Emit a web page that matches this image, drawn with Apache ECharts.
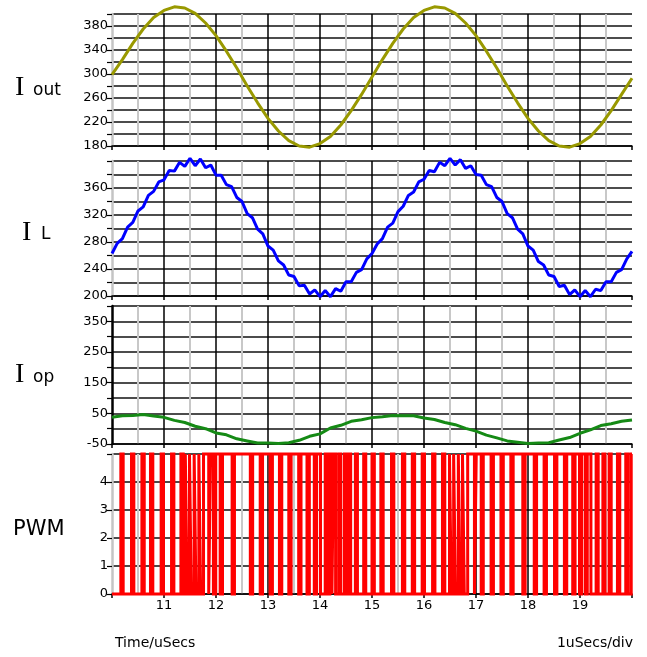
<!DOCTYPE html>
<html><head><meta charset="utf-8">
<script src="https://cdn.jsdelivr.net/npm/echarts@6/dist/echarts.min.js"></script>
<style>html,body{margin:0;padding:0;background:#fff}#c{width:647px;height:657px}</style>
</head><body><div id="c"></div>
<script>
// ---- tick labels ----
const timeTicks = [11, 12, 13, 14, 15, 16, 17, 18, 19];
const ioutTicks = [180, 220, 260, 300, 340, 380];
const ilTicks = [200, 240, 280, 320, 360];
const iopTicks = [-50, 50, 150, 250, 350];
const pwmTicks = [0, 1, 2, 3, 4];

// ---- sample times ----
const t02 = [10.0,10.2,10.4,10.6,10.8,11.0,11.2,11.4,11.6,11.8,12.0,12.2,12.4,12.6,12.8,13.0,13.2,13.4,13.6,13.8,14.0,14.2,14.4,14.6,14.8,
  15.0,15.2,15.4,15.6,15.8,16.0,16.2,16.4,16.6,16.8,17.0,17.2,17.4,17.6,17.8,18.0,18.2,18.4,18.6,18.8,19.0,19.2,19.4,19.6,19.8,20.0];
const t01 = [10.0,10.1,10.2,10.3,10.4,10.5,10.6,10.7,10.8,10.9,11.0,11.1,11.2,11.3,11.4,11.5,11.6,11.7,11.8,11.9,
  12.0,12.1,12.2,12.3,12.4,12.5,12.6,12.7,12.8,12.9,13.0,13.1,13.2,13.3,13.4,13.5,13.6,13.7,13.8,13.9,
  14.0,14.1,14.2,14.3,14.4,14.5,14.6,14.7,14.8,14.9,15.0,15.1,15.2,15.3,15.4,15.5,15.6,15.7,15.8,15.9,
  16.0,16.1,16.2,16.3,16.4,16.5,16.6,16.7,16.8,16.9,17.0,17.1,17.2,17.3,17.4,17.5,17.6,17.7,17.8,17.9,
  18.0,18.1,18.2,18.3,18.4,18.5,18.6,18.7,18.8,18.9,19.0,19.1,19.2,19.3,19.4,19.5,19.6,19.7,19.8,19.9,20.0];

// ---- series values ----
const ioutValues = [299,324,351,375,394,406,412,410,401,385,364,338,310,280,252,226,205,189,180,178,184,196,215,239,266,
  295,324,351,375,394,406,412,410,401,385,364,338,310,280,252,226,205,189,180,178,184,196,215,239,266,293];
const ilValues = [263,278,285,302,309,326,332,349,355,369,372,386,385,398,392,404,393,403,390,394,
  379,379,365,362,346,340,322,316,299,292,274,268,252,246,231,229,215,216,203,209,
  199,208,199,211,207,221,221,235,239,255,263,277,285,302,308,325,333,349,354,369,
  373,386,384,398,393,404,394,402,389,393,380,379,365,362,346,340,322,316,299,292,
  274,268,251,246,231,229,214,216,202,209,199,208,199,210,208,221,221,235,239,255,266];
const iopValues = [37,42,43,46,41,37,27,20,8,0,-14,-20,-33,-40,-47,-47,-48,-46,-38,-25,-17,2,11,24,29,
  36,39,43,42,42,35,30,20,13,1,-8,-21,-30,-40,-44,-48,-47,-46,-37,-29,-15,-4,10,16,24,28];
// PWM high intervals [rise, fall] in uSecs
const pwmHigh = [[10.17,10.215],[10.375,10.42],[10.575,10.62],[10.74,10.785],[10.945,10.99],[11.145,11.19],[11.325,11.37],
  [11.41,11.445],[11.49,11.525],[11.58,11.615],[11.67,11.705],
  [11.76,11.86],[11.895,11.95],[11.995,12.08],[12.125,12.31],[12.355,12.66],[12.705,12.85],[12.895,13.04],[13.085,13.22],
  [13.265,13.40],[13.445,13.59],[13.635,13.75],[13.795,13.89],[13.935,14.01],
  [14.10,14.14],[14.19,14.23],[14.26,14.30],[14.36,14.40],[14.47,14.51],[14.55,14.59],[14.68,14.72],[14.84,14.88],
  [15.00,15.045],[15.17,15.215],[15.375,15.42],[15.585,15.63],[15.775,15.82],[15.965,16.01],[16.165,16.21],[16.355,16.40],
  [16.49,16.525],[16.57,16.605],[16.66,16.695],[16.74,16.775],
  [16.84,16.97],[17.005,17.10],[17.14,17.29],[17.335,17.48],[17.525,17.67],[17.715,17.90],[17.945,18.12],[18.165,18.31],
  [18.355,18.51],[18.555,18.70],[18.745,18.86],[18.905,18.99],[19.03,19.10],[19.14,19.21],
  [19.31,19.35],[19.44,19.48],[19.56,19.60],[19.72,19.765],[19.88,19.925],[19.985,20.0]];
const pwmLow = 0, pwmHighLevel = 5;

// ---- build ----
const zip = (ts, vs) => ts.map((t, i) => [t, vs[i]]);
const pwmData = [[10, pwmLow]];
pwmHigh.forEach(([a, b]) => {
  pwmData.push([a, pwmLow], [a, pwmHighLevel], [b, pwmHighLevel]);
  if (b < 20) pwmData.push([b, pwmLow]);
});

const FONT = 'DejaVu Sans';
const panels = [
  {top: 14, height: 132, min: 180, max: 400, interval: 20, ticks: ioutTicks, axisColor: '#c4c4c4'},
  {top: 161, height: 135, min: 200, max: 400, interval: 20, ticks: ilTicks, axisColor: '#c4c4c4'},
  {top: 306, height: 138, min: -50, max: 400, interval: 50, ticks: iopTicks, axisColor: '#000'},
  {top: 454, height: 140, min: 0, max: 5, interval: 1, ticks: pwmTicks, axisColor: '#c4c4c4'}
];

const option = {
  animation: false,
  backgroundColor: '#fff',
  grid: panels.map(p => ({left: 112, right: 15, top: p.top, height: p.height})),
  xAxis: panels.map((p, i) => ({
    type: 'value', gridIndex: i, min: 10, max: 20, interval: 1,
    axisLine: {show: true, onZero: false, lineStyle: {color: '#000', width: 1.5}},
    axisTick: {show: true, length: 4, lineStyle: {color: '#000', width: 1.5}},
    axisLabel: {show: i === 3, margin: 5, fontFamily: FONT, fontSize: 13, color: '#000',
      formatter: v => timeTicks.includes(Math.round(v * 100) / 100) ? String(Math.round(v)) : ''},
    splitLine: {show: true, showMinLine: false, showMaxLine: false, lineStyle: {color: '#000', width: 1.5}},
    minorTick: {show: false, splitNumber: 2},
    minorSplitLine: {show: true, lineStyle: {color: '#c8c8c8', width: 2}}
  })),
  yAxis: panels.map((p, i) => ({
    type: 'value', gridIndex: i, min: p.min, max: p.max, interval: p.interval,
    axisLine: {show: true, onZero: false, lineStyle: {color: p.axisColor, width: 2.5}},
    axisTick: {show: true, length: 5, lineStyle: {color: '#000', width: 1.2}},
    axisLabel: {margin: 4, fontFamily: FONT, fontSize: 13, color: '#000',
      formatter: v => p.ticks.includes(v) ? String(v) : ''},
    splitLine: {show: true, lineStyle: {color: '#111', width: 1.5}}
  })),
  series: [
    {type: 'line', xAxisIndex: 0, yAxisIndex: 0, data: zip(t02, ioutValues), symbol: 'none', clip: false,
      lineStyle: {color: '#999900', width: 3}, z: 5},
    {type: 'line', xAxisIndex: 1, yAxisIndex: 1, data: zip(t01, ilValues), symbol: 'none', clip: false,
      lineStyle: {color: '#0000ff', width: 3}, z: 5},
    {type: 'line', xAxisIndex: 2, yAxisIndex: 2, data: zip(t02, iopValues), symbol: 'none', clip: false,
      lineStyle: {color: '#158a15', width: 3}, z: 5},
    {type: 'line', xAxisIndex: 3, yAxisIndex: 3, data: pwmData, symbol: 'none', clip: false,
      lineStyle: {color: '#ff0000', width: 3, join: 'miter'}, z: 5}
  ],
  graphic: [
    {type: 'text', left: 15, top: 74, style: {text: 'I', font: '28px "Liberation Serif"', fill: '#000'}},
    {type: 'text', left: 33, top: 82, style: {text: 'out', font: '17px "DejaVu Sans"', fill: '#000'}},
    {type: 'text', left: 22, top: 219, style: {text: 'I', font: '28px "Liberation Serif"', fill: '#000'}},
    {type: 'text', left: 41, top: 226, style: {text: 'L', font: '17px "DejaVu Sans"', fill: '#000'}},
    {type: 'text', left: 15, top: 361, style: {text: 'I', font: '28px "Liberation Serif"', fill: '#000'}},
    {type: 'text', left: 33, top: 369, style: {text: 'op', font: '17px "DejaVu Sans"', fill: '#000'}},
    {type: 'text', left: 13, top: 519, style: {text: 'PWM', font: '21px "DejaVu Sans"', fill: '#000'}},
    {type: 'text', left: 115, top: 636, style: {text: 'Time/uSecs', font: '14px "DejaVu Sans"', fill: '#000'}},
    {type: 'text', right: 14, top: 636, style: {text: '1uSecs/div', font: '14px "DejaVu Sans"', fill: '#000'}}
  ]
};
echarts.init(document.getElementById('c'), null, {renderer: 'canvas'}).setOption(option);
</script>
</body></html>
